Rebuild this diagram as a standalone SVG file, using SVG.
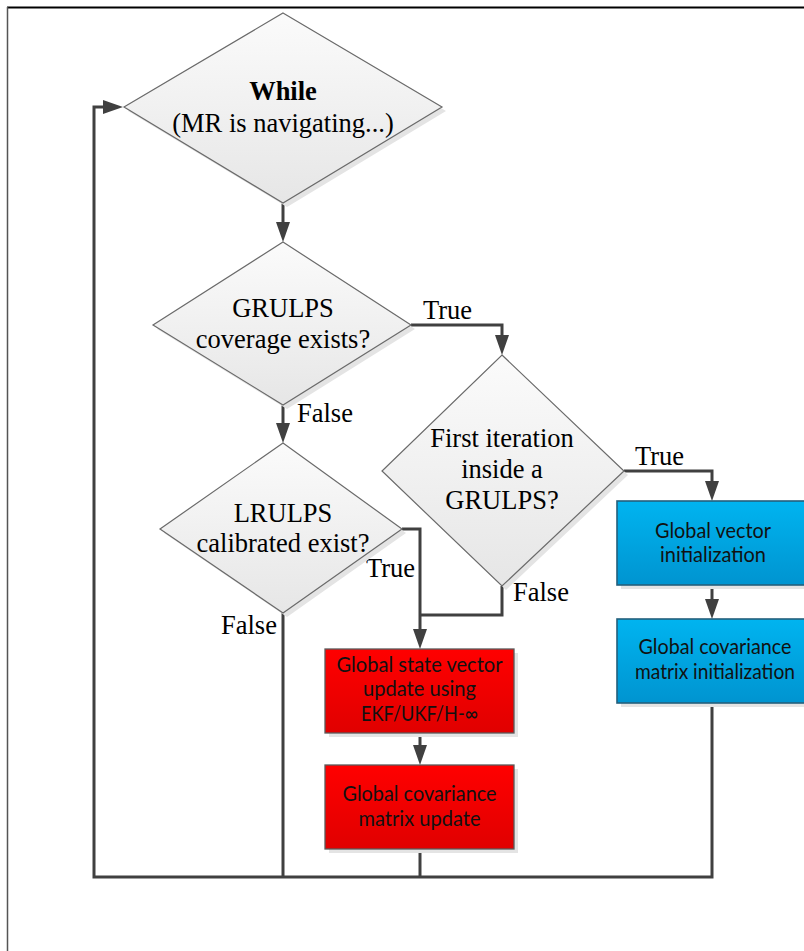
<svg xmlns="http://www.w3.org/2000/svg" width="804" height="951" viewBox="0 0 804 951">
<defs>
<linearGradient id="gDia" x1="0" y1="0" x2="0" y2="1"><stop offset="0" stop-color="#fbfbfb"/><stop offset="1" stop-color="#e6e6e6"/></linearGradient>
<linearGradient id="gRed" x1="0" y1="0" x2="0" y2="1"><stop offset="0" stop-color="#ff0000"/><stop offset="1" stop-color="#e00000"/></linearGradient>
<linearGradient id="gBlue" x1="0" y1="0" x2="0" y2="1"><stop offset="0" stop-color="#00b4f0"/><stop offset="1" stop-color="#0094d0"/></linearGradient>
<marker id="arr" markerUnits="userSpaceOnUse" viewBox="0 0 20 14" refX="10" refY="7" markerWidth="20" markerHeight="14" orient="auto"><path d="M0,0 L20,7 L0,14 z" fill="#404040"/></marker>
</defs>
<style>
.dia{fill:url(#gDia);stroke:#6a6a6a;stroke-width:1.2}
.shd{fill:#e4e4e4;stroke:none}
.red{fill:url(#gRed);stroke:#5a5a5a;stroke-width:1.3}
.blue{fill:url(#gBlue);stroke:#235f7c;stroke-width:1.6}
.t{font-family:"Liberation Serif","Times New Roman",serif;font-size:26.5px;fill:#000;text-anchor:middle}
.lb{font-family:"Liberation Serif","Times New Roman",serif;font-size:26.5px;fill:#000}
.b{font-family:Lato,"Liberation Sans",sans-serif;font-size:21px;fill:#111;text-anchor:middle}
.c{fill:none;stroke:#404040;stroke-width:3}
.ca{fill:none;stroke:#404040;stroke-width:3;marker-end:url(#arr)}
</style>
<rect x="0" y="0" width="804" height="951" fill="#fff"/>
<g id="frame">
<line x1="7" y1="7.5" x2="804" y2="7.5" stroke="#000" stroke-width="2"/>
<line x1="7.5" y1="7" x2="7.5" y2="951" stroke="#555" stroke-width="1.5"/>
</g>
<g id="connectors">
<path class="ca" d="M283,203 V232"/>
<path class="ca" d="M411,325 H502 V345"/>
<path class="ca" d="M283,405 V433"/>
<path class="ca" d="M624,471 H712 V491"/>
<path class="ca" d="M402,529 H420 V639"/>
<path class="c" d="M502,586 V615 H420"/>
<path class="ca" d="M420,733 V755"/>
<path class="ca" d="M712,585 V609"/>
<path class="c" d="M283,613 V877"/>
<path class="c" d="M420,849 V877"/>
<path class="ca" d="M712,703 V877 H94 V107 H113"/>
<text class="lb" x="423" y="319">True</text>
<text class="lb" x="297" y="422">False</text>
<text class="lb" x="635" y="465">True</text>
<text class="lb" x="513" y="601">False</text>
<text class="lb" x="366" y="577">True</text>
<text class="lb" x="221" y="634">False</text>
</g>
<g id="while">
<polygon class="shd" points="287,17 446,111 287,207 128,111"/>
<polygon class="dia" points="283,13 442,107 283,203 124,107"/>
<text class="t" x="283" y="100" font-weight="bold">While</text>
<text class="t" x="283" y="132">(MR is navigating...)</text>
</g>
<g id="grulps">
<polygon class="shd" points="287,246 415,329 287,409 157,329"/>
<polygon class="dia" points="283,242 411,325 283,405 153,325"/>
<text class="t" x="283" y="317">GRULPS</text>
<text class="t" x="283" y="348">coverage exists?</text>
</g>
<g id="first">
<polygon class="shd" points="506,359 628,475 506,590 386,475"/>
<polygon class="dia" points="502,355 624,471 502,586 382,471"/>
<text class="t" x="502" y="447">First iteration</text>
<text class="t" x="502" y="478">inside a</text>
<text class="t" x="502" y="509">GRULPS?</text>
</g>
<g id="lrulps">
<polygon class="shd" points="287,447 406,533 287,617 164,533"/>
<polygon class="dia" points="283,443 402,529 283,613 160,529"/>
<text class="t" x="283" y="522">LRULPS</text>
<text class="t" x="283" y="552">calibrated exist?</text>
</g>
<g id="redUpdate">
<rect class="shd" x="329" y="653" width="189" height="84"/>
<rect class="red" x="325" y="649" width="189" height="84"/>
<text class="b" x="419.5" y="672" textLength="166" lengthAdjust="spacingAndGlyphs">Global state vector</text>
<text class="b" x="419.5" y="696" textLength="113" lengthAdjust="spacingAndGlyphs">update using</text>
<text class="b" x="419.5" y="721" textLength="117" lengthAdjust="spacingAndGlyphs">EKF/UKF/H-∞</text>
</g>
<g id="redCov">
<rect class="shd" x="329" y="769" width="189" height="84"/>
<rect class="red" x="325" y="765" width="189" height="84"/>
<text class="b" x="419.5" y="801" textLength="154" lengthAdjust="spacingAndGlyphs">Global covariance</text>
<text class="b" x="419.5" y="826" textLength="122" lengthAdjust="spacingAndGlyphs">matrix update</text>
</g>
<g id="blueVec">
<rect class="shd" x="621" y="505" width="190" height="84"/>
<rect class="blue" x="617" y="501" width="190" height="84"/>
<text class="b" x="713" y="538" textLength="116" lengthAdjust="spacingAndGlyphs">Global vector</text>
<text class="b" x="713" y="562" textLength="106" lengthAdjust="spacingAndGlyphs">initialization</text>
</g>
<g id="blueCov">
<rect class="shd" x="621" y="623" width="190" height="84"/>
<rect class="blue" x="617" y="619" width="190" height="84"/>
<text class="b" x="715" y="654" textLength="153" lengthAdjust="spacingAndGlyphs">Global covariance</text>
<text class="b" x="715" y="679" textLength="160" lengthAdjust="spacingAndGlyphs">matrix initialization</text>
</g>
</svg>
